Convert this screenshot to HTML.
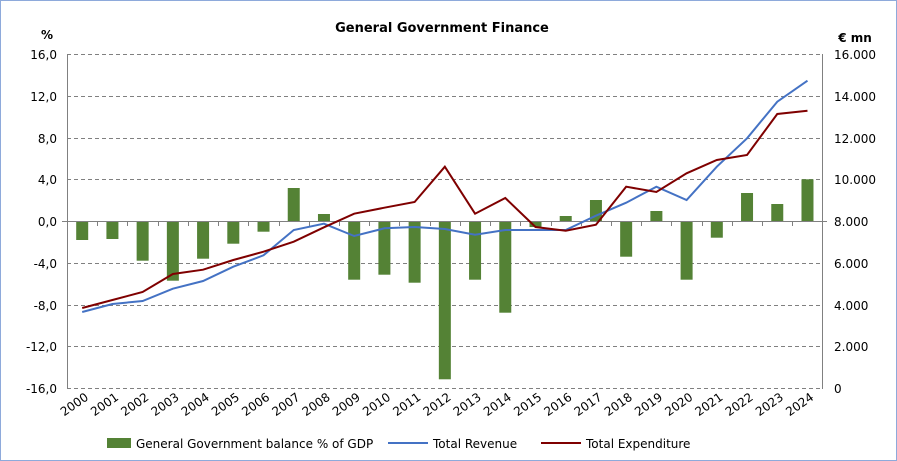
<!DOCTYPE html><html><head><meta charset="utf-8"><style>html,body{margin:0;padding:0;background:#fff}svg{display:block}text{font-family:"DejaVu Sans","Liberation Sans",sans-serif;fill:#000}</style></head><body>
<svg width="897" height="461" xmlns="http://www.w3.org/2000/svg">
<rect x="0.5" y="0.5" width="896" height="460" fill="#fff" stroke="#8eaadb"/>
<text x="442" y="32" text-anchor="middle" font-weight="bold" font-size="13">General Government Finance</text>
<text x="47" y="39" text-anchor="middle" font-weight="bold" font-size="12">%</text>
<text x="855" y="42" text-anchor="middle" font-weight="bold" font-size="12">€ mn</text>
<g stroke="#808080" stroke-dasharray="4,3" stroke-width="1">
<line x1="67" y1="54.5" x2="823" y2="54.5"/><line x1="67" y1="96.5" x2="823" y2="96.5"/><line x1="67" y1="138.5" x2="823" y2="138.5"/><line x1="67" y1="179.5" x2="823" y2="179.5"/><line x1="67" y1="263.5" x2="823" y2="263.5"/><line x1="67" y1="305.5" x2="823" y2="305.5"/><line x1="67" y1="346.5" x2="823" y2="346.5"/><line x1="67" y1="388.5" x2="823" y2="388.5"/>
</g>
<g fill="#548235" id="bars"></g>
<g stroke="#808080" stroke-width="1">
<line x1="67.5" y1="54" x2="67.5" y2="389"/><line x1="822.5" y1="54" x2="822.5" y2="389"/>
<line x1="62" y1="221.5" x2="827" y2="221.5"/>
<g id="ticks"></g>
</g>
<polyline id="rev" fill="none" stroke="#4472c4" stroke-width="2"/>
<polyline id="exp" fill="none" stroke="#7f0000" stroke-width="2"/>
<g font-size="12" text-anchor="end">
<text x="57" y="59">16,0</text><text x="57" y="101">12,0</text><text x="57" y="143">8,0</text><text x="57" y="184">4,0</text><text x="57" y="226">0,0</text><text x="57" y="268">-4,0</text><text x="57" y="310">-8,0</text><text x="57" y="351">-12,0</text><text x="57" y="393">-16,0</text>
</g>
<g font-size="12">
<text x="834" y="59">16.000</text><text x="834" y="101">14.000</text><text x="834" y="143">12.000</text><text x="834" y="184">10.000</text><text x="834" y="226">8.000</text><text x="834" y="268">6.000</text><text x="834" y="310">4.000</text><text x="834" y="351">2.000</text><text x="834" y="393">0</text>
</g>
<g id="xl" font-size="12" text-anchor="end"></g>
<rect x="107" y="438" width="24" height="10" fill="#548235"/>
<text x="136" y="448" font-size="12">General Government balance % of GDP</text>
<line x1="388" y1="443" x2="428" y2="443" stroke="#4472c4" stroke-width="2"/>
<text x="433" y="448" font-size="12">Total Revenue</text>
<line x1="541" y1="443" x2="581" y2="443" stroke="#7f0000" stroke-width="2"/>
<text x="586" y="448" font-size="12">Total Expenditure</text>
<script>
var ns="http://www.w3.org/2000/svg";
var bars=[240,239,260.7,280.7,258.7,243.7,231.7,188,214,279.7,274.7,282.7,379.3,279.7,312.7,227,216,200,256.7,211,279.7,237.7,193,204,179.3];
var rev=[312,304,301,288.7,281,266.7,255.3,230,223.7,236,228.3,227,229,234.7,230,230,230,215.7,202.7,186.7,200,166.7,138.3,101.7,80.7];
var exp=[308,300,292,274,269.7,260,251.7,241.7,227.3,213.7,207.7,202,166.7,213.7,198,227,230.7,224.7,186.7,192,173.3,160,155,114,110.7];
var z=221.5,bg=document.getElementById("bars"),tk=document.getElementById("ticks"),xl=document.getElementById("xl");
var rp=[],ep=[];
for(var i=0;i<25;i++){var x=82.2+30.22*i;
var r=document.createElementNS(ns,"rect");var y0=Math.min(z,bars[i]),y1=Math.max(z,bars[i]);
r.setAttribute("x",x-6);r.setAttribute("width",12);r.setAttribute("y",y0);r.setAttribute("height",y1-y0);bg.appendChild(r);
var l=document.createElementNS(ns,"line");var tx=Math.round(67+30.22*i)+0.5;l.setAttribute("x1",tx);l.setAttribute("x2",tx);l.setAttribute("y1",221.5);l.setAttribute("y2",226);tk.appendChild(l);
rp.push(x+","+rev[i]);ep.push(x+","+exp[i]);
var t=document.createElementNS(ns,"text");t.setAttribute("transform","translate("+(x+7)+",399) rotate(-35)");t.textContent=2000+i;xl.appendChild(t);}
document.getElementById("rev").setAttribute("points",rp.join(" "));
document.getElementById("exp").setAttribute("points",ep.join(" "));
</script>
</svg></body></html>
